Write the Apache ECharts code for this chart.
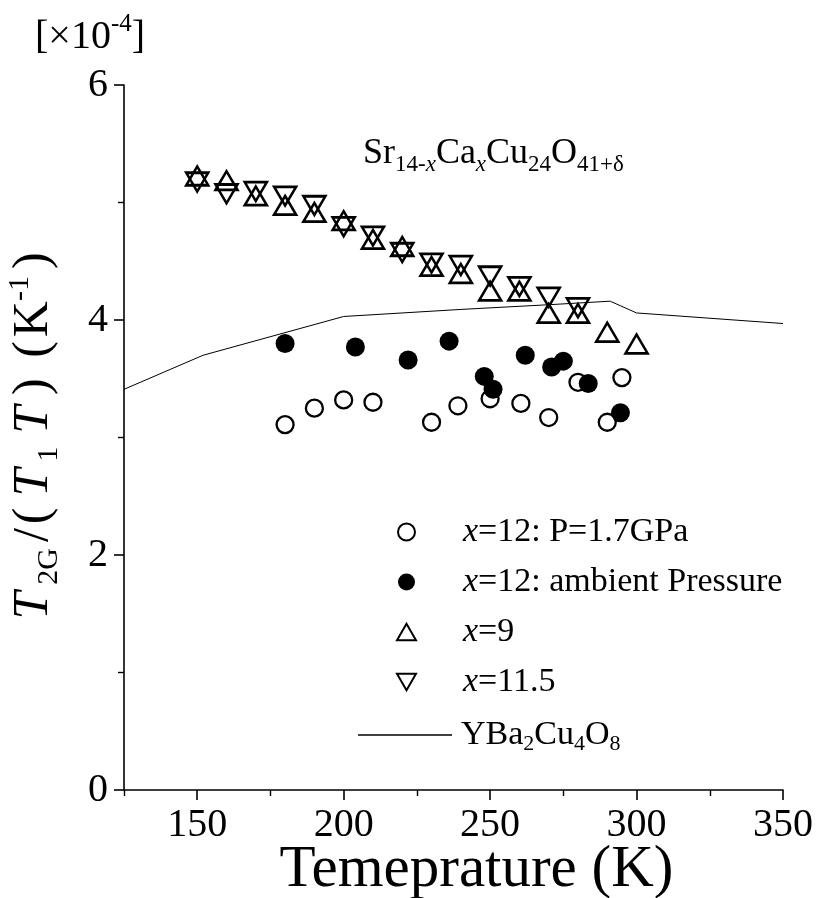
<!DOCTYPE html>
<html>
<head>
<meta charset="utf-8">
<script src="https://cdn.jsdelivr.net/npm/echarts@6/dist/echarts.min.js"></script>
<style>
  html, body { margin: 0; padding: 0; background: #fff; }
  #chart { width: 820px; height: 898px; }
</style>
</head>
<body>
<div id="chart"></div>
<script>
// values, T in K, y in 1e-4 K^-1
const openCircles = [[180, 3.11], [190, 3.25], [200, 3.32], [210, 3.30], [230, 3.13], [239, 3.27],
  [250, 3.33], [260.5, 3.29], [270, 3.17], [280, 3.47], [290, 3.13], [295, 3.51]];
const filledCircles = [[180, 3.80], [204, 3.77], [222, 3.66], [236, 3.82], [248, 3.52], [251, 3.41],
  [262, 3.70], [271, 3.60], [275, 3.65], [283.5, 3.46], [294.5, 3.21]];
const upTriangles = [[150, 5.2], [160, 5.16], [170, 5.03], [180, 4.95], [190, 4.89], [200, 4.82],
  [210, 4.66], [220, 4.60], [230, 4.43], [240, 4.37], [250, 4.22], [260, 4.22], [270, 4.03],
  [280, 4.03], [290, 3.87], [300, 3.77]];
const downTriangles = [[150, 5.2], [160, 5.10], [170, 5.12], [180, 5.08], [190, 5.00], [200, 4.82],
  [210, 4.74], [220, 4.60], [230, 4.51], [240, 4.49], [250, 4.40], [260, 4.31], [270, 4.22],
  [280, 4.13]];
const ybcoLine = [[125, 3.41], [152, 3.70], [200, 4.03], [240, 4.09], [270, 4.13], [291, 4.16],
  [300, 4.06], [350, 3.97]];

const seriesNames = ['x=12: P=1.7GPa', 'x=12: ambient Pressure', 'x=9', 'x=11.5', 'YBa2Cu4O8'];
const xMajorTicks = [150, 200, 250, 300, 350];
const xMinorTicks = [125, 175, 225, 275, 325];

const FONT = 'Liberation Serif';

// triangles with the centroid at the data point (extra moveTo keeps the box symmetric)
const upPath = 'path://M0,-2L1.737,1L-1.737,1Z M0,2';
const downPath = 'path://M0,2L1.737,-1L-1.737,-1Z M0,-2';
// plain triangles for the legend
const upIcon = 'path://M0,-2L1.737,1L-1.737,1Z';
const downIcon = 'path://M0,2L1.737,-1L-1.737,-1Z';

const legendRich = {
  i: { fontFamily: FONT, fontSize: 34, fontStyle: 'italic', fontWeight: 'normal', color: '#000' },
  s: { fontFamily: FONT, fontSize: 22, fontWeight: 'normal', color: '#000', padding: [19, 0, 0, 0] }
};
function legendText(name) {
  if (name === 'YBa2Cu4O8') return 'YBa{s|2}Cu{s|4}O{s|8}';
  return name.replace(/^x/, '{i|x}');
}

const chart = echarts.init(document.getElementById('chart'));

const option = {
  animation: false,
  backgroundColor: '#fff',
  grid: { left: 124, right: 37, top: 85, bottom: 108, outerBoundsMode: 'none' },
  xAxis: [
    {
      type: 'value', min: 125, max: 350,
      name: 'Temeprature (K)', nameLocation: 'middle', nameGap: 51, nameMoveOverlap: false,
      nameTextStyle: { fontFamily: FONT, fontSize: 59, fontWeight: 'normal', color: '#000', padding: [0, 0, 0, 46] },
      axisLine: { lineStyle: { color: '#000', width: 1.6 } },
      axisTick: { customValues: xMajorTicks, length: 10, lineStyle: { color: '#000', width: 1.6 } },
      axisLabel: { customValues: xMajorTicks, fontFamily: FONT, fontSize: 40, color: '#000', margin: 15 },
      splitLine: { show: false }
    },
    {
      type: 'value', min: 125, max: 350, position: 'bottom', gridIndex: 0,
      axisLine: { show: false },
      axisTick: { customValues: xMinorTicks, length: 6, lineStyle: { color: '#000', width: 1.4 } },
      axisLabel: { show: false },
      splitLine: { show: false }
    }
  ],
  yAxis: {
    type: 'value', min: 0, max: 6, interval: 2,
    name: '{it|T}{sub|2G}/{p|(}{it|T}{sub|1}{it|T}{p|)} {p|(}K{sup|-1}{p|)}',
    nameLocation: 'middle', nameRotate: 90, nameGap: 60, nameMoveOverlap: false,
    nameTextStyle: {
      fontFamily: FONT, fontSize: 50, fontWeight: 'normal', color: '#000',
      rich: {
        it: { fontFamily: FONT, fontSize: 50, fontStyle: 'italic', fontWeight: 'normal', color: '#000', padding: [0, 7, 0, 7] },
        p: { fontFamily: FONT, fontSize: 50, fontWeight: 'normal', color: '#000', padding: [0, 4, 0, 4] },
        sub: { fontFamily: FONT, fontSize: 30, fontWeight: 'normal', color: '#000', padding: [30, 6, 0, 0] },
        sup: { fontFamily: FONT, fontSize: 30, fontWeight: 'normal', color: '#000', padding: [0, 3, 28, 0] }
      }
    },
    axisLine: { show: true, lineStyle: { color: '#000', width: 1.6 } },
    axisTick: { length: 10, lineStyle: { color: '#000', width: 1.6 } },
    minorTick: { show: true, splitNumber: 2, length: 6, lineStyle: { color: '#000', width: 1.4 } },
    axisLabel: { fontFamily: FONT, fontSize: 40, color: '#000', margin: 16 },
    splitLine: { show: false }
  },
  legend: [
    {
      data: [
        { name: seriesNames[0], icon: 'circle' },
        { name: seriesNames[1], icon: 'circle' },
        { name: seriesNames[2], icon: upIcon },
        { name: seriesNames[3], icon: downIcon }
      ],
      orient: 'vertical', left: 391, top: 509,
      itemWidth: 19, itemHeight: 17, itemGap: 14,
      formatter: legendText,
      textStyle: { fontFamily: FONT, fontSize: 34, color: '#000', lineHeight: 36, padding: [0, 0, 0, 42], rich: legendRich }
    },
    {
      data: [{ name: seriesNames[4], icon: 'rect' }],
      orient: 'vertical', left: 353, top: 712,
      itemWidth: 94, itemHeight: 1.3,
      formatter: legendText,
      textStyle: { fontFamily: FONT, fontSize: 34, color: '#000', lineHeight: 36, padding: [0, 0, 0, 4], rich: legendRich }
    }
  ],
  graphic: [
    {
      type: 'text', left: 35, top: 12,
      style: {
        text: '[×10{sup|-4}]',
        fontFamily: FONT, fontSize: 40, fill: '#000',
        rich: { sup: { fontFamily: FONT, fontSize: 25, fill: '#000', padding: [0, 0, 26, 0] } }
      }
    },
    {
      type: 'text', left: 363, top: 136,
      style: {
        text: 'Sr{s|14-}{si|x}Ca{si|x}Cu{s|24}O{s|41+δ}',
        fontFamily: FONT, fontSize: 36, fill: '#000',
        rich: {
          s: { fontFamily: FONT, fontSize: 23, fill: '#000', padding: [22, 0, 0, 0] },
          si: { fontFamily: FONT, fontSize: 23, fontStyle: 'italic', fill: '#000', padding: [22, 0, 0, 0] }
        }
      }
    }
  ],
  series: [
    {
      name: seriesNames[4], type: 'line', data: ybcoLine, symbol: 'none', z: 1,
      lineStyle: { color: '#000', width: 1 }, itemStyle: { color: '#000', opacity: 1 }
    },
    {
      name: seriesNames[0], type: 'scatter', data: openCircles, symbol: 'circle', symbolSize: 17, z: 2,
      itemStyle: { color: '#fff', borderColor: '#000', borderWidth: 2.3, opacity: 1 }
    },
    {
      name: seriesNames[1], type: 'scatter', data: filledCircles, symbol: 'circle', symbolSize: 19, z: 3,
      itemStyle: { color: '#000', borderColor: '#000', borderWidth: 0, opacity: 1 }
    },
    {
      name: seriesNames[2], type: 'scatter', data: upTriangles, symbol: upPath, symbolSize: [22, 25], z: 4,
      itemStyle: { color: 'rgba(255,255,255,0)', borderColor: '#000', borderWidth: 2.6, opacity: 1 }
    },
    {
      name: seriesNames[3], type: 'scatter', data: downTriangles, symbol: downPath, symbolSize: [22, 25], z: 4,
      itemStyle: { color: 'rgba(255,255,255,0)', borderColor: '#000', borderWidth: 2.6, opacity: 1 }
    }
  ]
};

chart.setOption(option);
</script>
</body>
</html>
